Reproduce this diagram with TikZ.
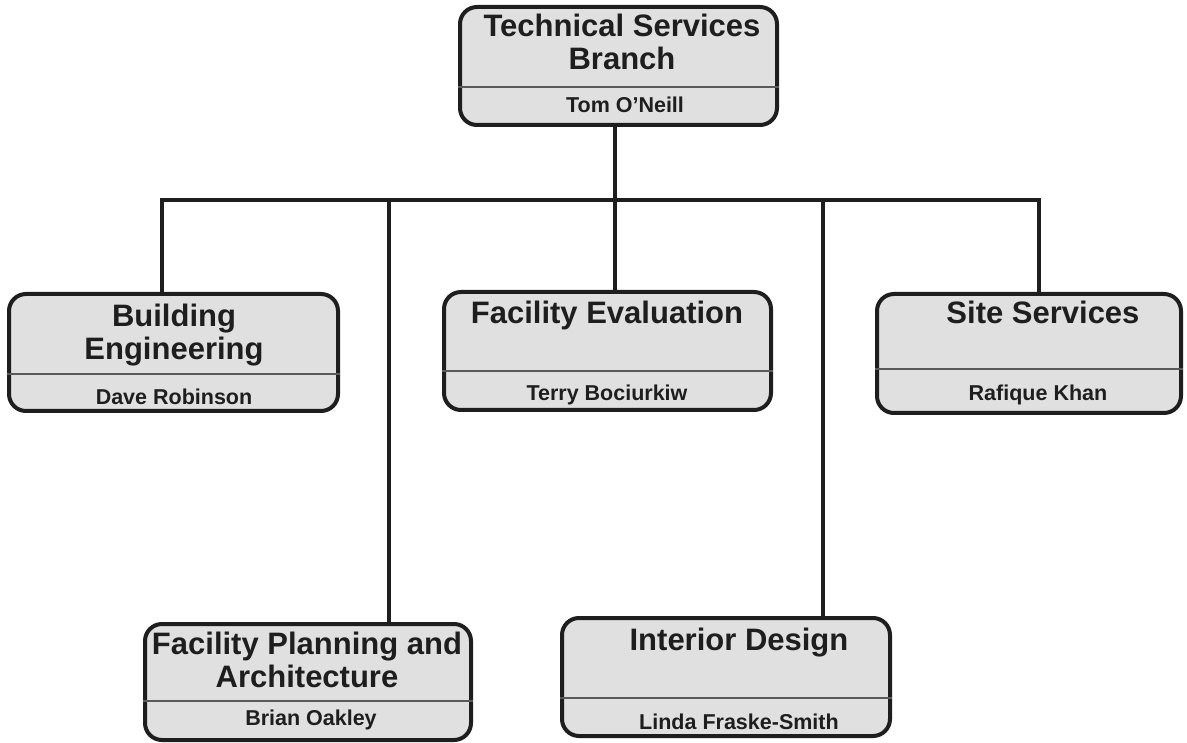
\documentclass[tikz,border=0pt]{standalone}
\usepackage{fontspec}
\setmainfont{Liberation Sans}
\definecolor{boxfill}{HTML}{E0E0E0}
\definecolor{ink}{HTML}{1E1E1E}
\definecolor{divider}{HTML}{5A5A5A}
\tikzset{
  orgbox/.style={draw=ink, line width=4pt, fill=boxfill, rounded corners=17pt, inner sep=0pt},
  titletext/.style={font=\bfseries\fontsize{31}{33}\selectfont, text=ink, align=center, inner sep=0pt},
  nametext/.style={font=\bfseries\fontsize{21.5}{24}\selectfont, text=ink, align=center, inner sep=0pt},
  divline/.style={draw=divider, line width=1.3pt},
  conn/.style={draw=ink, line width=4pt, line cap=rect}
}
\begin{document}
\begin{tikzpicture}[x=1pt,y=-1pt]
\useasboundingbox (0,0) rectangle (1187,743);
% boxes
\node[orgbox, minimum width=317pt, minimum height=118pt] (top) at (618.5,66) {};
\node[orgbox, minimum width=329pt, minimum height=117pt] (be) at (173.5,352.5) {};
\node[orgbox, minimum width=327pt, minimum height=118pt] (fe) at (607.5,351) {};
\node[orgbox, minimum width=304pt, minimum height=119pt] (ss) at (1029,353.5) {};
\node[orgbox, minimum width=326pt, minimum height=116pt] (fp) at (308,682) {};
\node[orgbox, minimum width=328pt, minimum height=118pt] (id) at (726,677) {};
% dividers
\coordinate (dtop) at (0,87);
\coordinate (dbe) at (0,374);
\coordinate (dfe) at (0,371);
\coordinate (dss) at (0,369);
\coordinate (dfp) at (0,701);
\coordinate (did) at (0,698);
\draw[divline] (top.west |- dtop) -- (top.east |- dtop);
\draw[divline] (be.west |- dbe) -- (be.east |- dbe);
\draw[divline] (fe.west |- dfe) -- (fe.east |- dfe);
\draw[divline] (ss.west |- dss) -- (ss.east |- dss);
\draw[divline] (fp.west |- dfp) -- (fp.east |- dfp);
\draw[divline] (id.west |- did) -- (id.east |- did);
% titles
\node[titletext] (ttop) at (622,41.5) {Technical Services\\Branch};
\node[titletext] (tbe) at (174,335) {Building\\Engineering};
\node[titletext] (tfe) at (607,315) {Facility Evaluation};
\node[titletext] (tss) at (1043,312) {Site Services};
\node[titletext] (tfp) at (307,660) {Facility Planning and\\Architecture};
\node[titletext] (tid) at (739,643) {Interior Design};
% names
\node[nametext] (ntop) at (625,105) {Tom O’Neill};
\node[nametext] (nbe) at (174,397) {Dave Robinson};
\node[nametext] (nfe) at (607,395) {Terry Bociurkiw};
\node[nametext] (nss) at (1038,395) {Rafique Khan};
\node[nametext] (nfp) at (311,720) {Brian Oakley};
\node[nametext] (nid) at (739,722) {Linda Fraske-Smith};
% connectors
\coordinate (b1) at (162,200);
\coordinate (b2) at (389,200);
\coordinate (b3) at (614.5,200);
\coordinate (b4) at (823,200);
\coordinate (b5) at (1039,200);
\draw[conn] (b1) -- (b5);
\draw[conn] (top.south -| b3) -- (b3);
\draw[conn] (b1) -- (b1 |- be.north);
\draw[conn] (b2) -- (b2 |- fp.north);
\draw[conn] (b3) -- (b3 |- fe.north);
\draw[conn] (b4) -- (b4 |- id.north);
\draw[conn] (b5) -- (b5 |- ss.north);
\end{tikzpicture}
\end{document}
